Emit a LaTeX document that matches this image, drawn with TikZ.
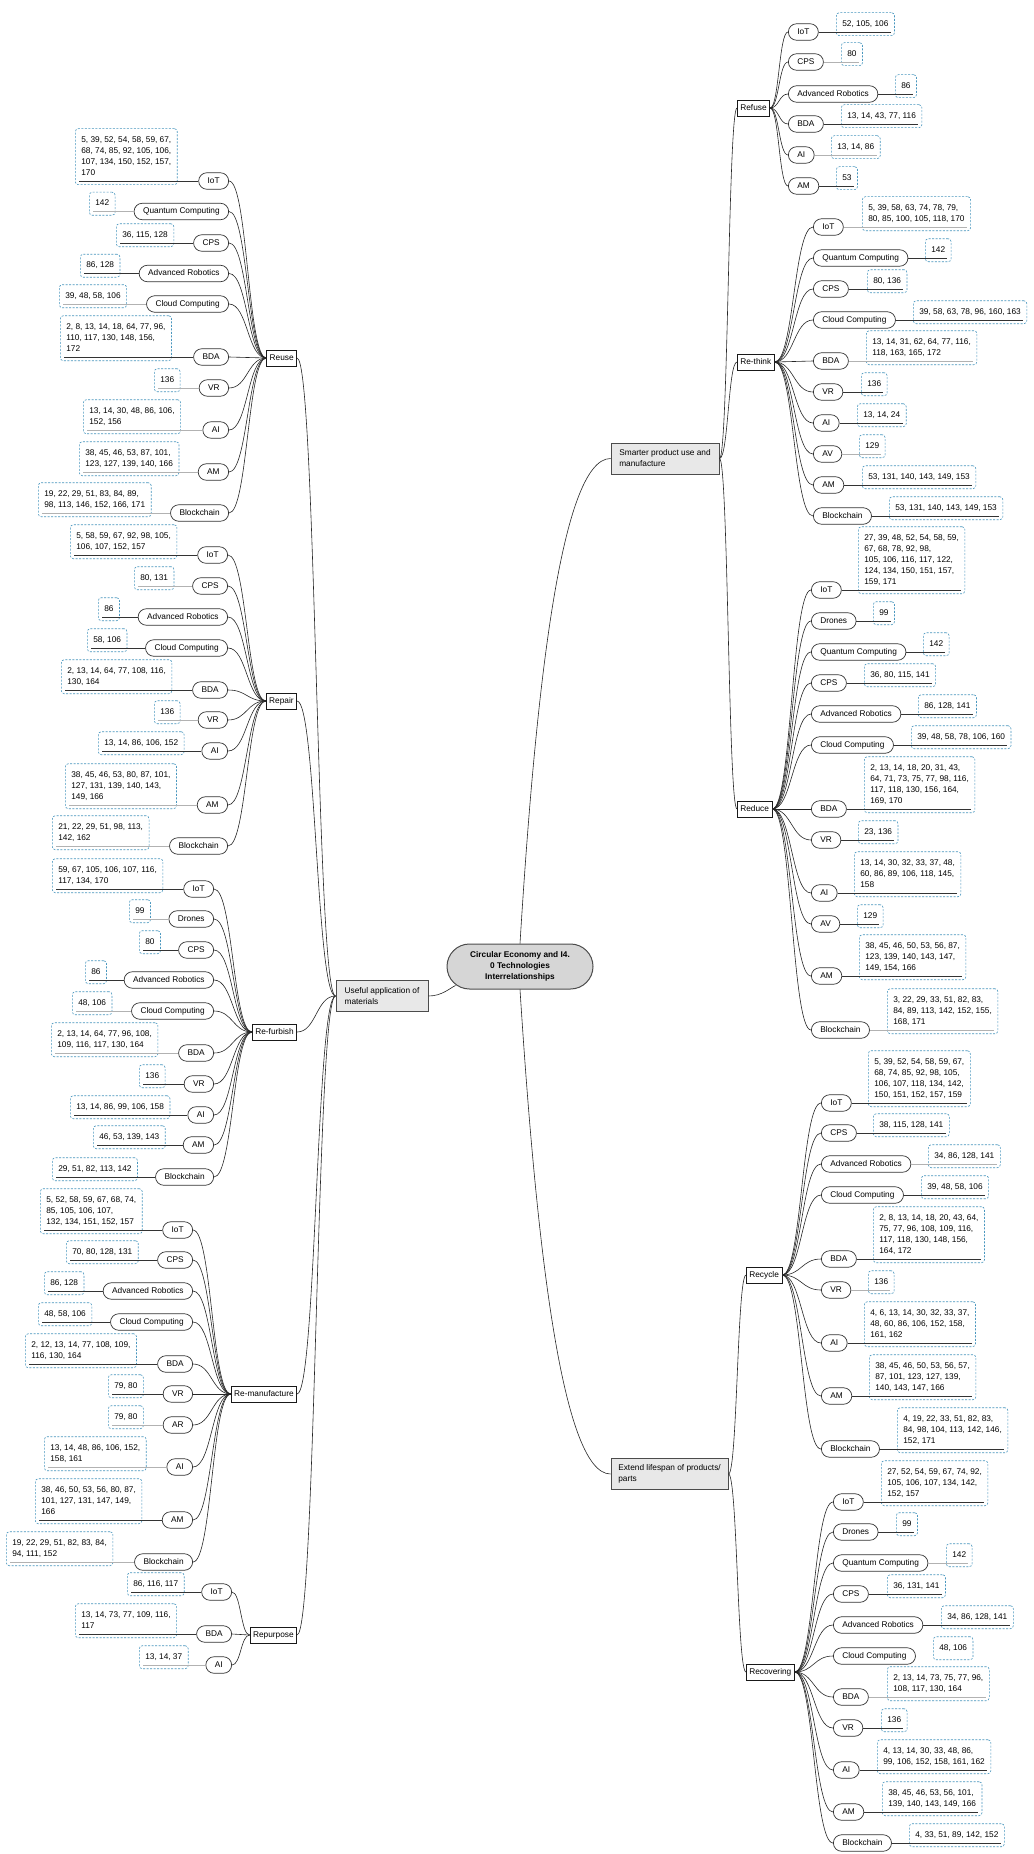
\documentclass[tikz,border=0pt]{standalone}
\usepackage{fontspec}
\setmainfont{Liberation Sans}
\usetikzlibrary{calc}
\definecolor{refblue}{RGB}{72,150,190}
\definecolor{lvone}{RGB}{232,232,232}
\definecolor{hubfill}{RGB}{214,214,214}
\tikzset{
  tech/.style={draw=black!80, line width=0.7pt, rounded corners=8.25pt, minimum height=16.5pt, inner xsep=9pt, inner ysep=0pt, text height=6.2pt, text depth=1.8pt, fill=white},
  catbox/.style={draw=black!90, line width=0.7pt, minimum height=16pt, inner xsep=3pt, inner ysep=0pt, text height=6.2pt, text depth=1.8pt, fill=white},
  lvlbox/.style={draw=black!70, fill=lvone, line width=1pt, align=left, minimum height=31pt, inner xsep=7pt},
  hubbox/.style={draw=black!70, fill=hubfill, line width=1pt, rounded corners=22.5pt, minimum width=146pt, minimum height=45pt, align=center, font=\bfseries\fontsize{8.3}{11}\selectfont},
  refbox/.style={draw=refblue, dash pattern=on 2pt off 1.5pt, rounded corners=3pt, line width=0.6pt, inner xsep=6pt, inner ysep=6pt},
  conn/.style={draw=black!85, line width=0.6pt},
  ul/.style={draw=black!80, line width=0.6pt},
  ulg/.style={draw=black!30, line width=0.6pt},
  uln/.style={draw=none}
}
\newcommand{\reftxt}[1]{\begin{tabular}{@{}l@{}}#1\end{tabular}}
\newcommand{\mmlink}[2]{\draw[conn] let \p1=(#1), \p2=(#2) in (\p1) .. controls ({(\x1+\x2)/2},\y1) and ({(\x1+\x2)/2},\y2) .. (\p2);}
\newcommand{\techL}[7]{%
  \node[tech,anchor=east] (#1) at (#2,#3) {#4};
  \node[refbox,anchor=south west] (#1r) at (#5,#3+4) {\reftxt{#6}};
  \draw[#7] (#1.west) -- ($(#1r.south west)+(4,-4)$);}
\newcommand{\techR}[7]{%
  \node[tech,anchor=west] (#1) at (#2,#3) {#4};
  \node[refbox,anchor=south west] (#1r) at (#5,#3+4) {\reftxt{#6}};
  \draw[#7] (#1.east) -- ($(#1r.south east)+(-4,-4)$);}
\begin{document}
\begin{tikzpicture}[x=1pt,y=-1pt,font=\fontsize{8.3}{11}\selectfont]
\fill[white] (0,0) rectangle (1033,1854);
\useasboundingbox (0,0) rectangle (1033,1854);

% hub and level-one nodes
\node[hubbox] (hub) at (520,966.5) {Circular Economy and I4.\\0 Technologies\\Interrelationships};
\node[lvlbox, minimum width=108pt] (smarter) at (665,458.5) {Smarter product use and\\manufacture};
\node[lvlbox, minimum width=92pt] (useful) at (382,996) {Useful application of\\materials};
\node[lvlbox, minimum width=117pt] (extend) at (669.5,1474) {Extend lifespan of products/\\parts};
\coordinate (hubin) at ($(hub.south west)+(9,-4)$);

% categories
\node[catbox,anchor=east] (reuse) at (297,358) {Reuse};
\node[catbox,anchor=east] (repair) at (297,701) {Repair};
\node[catbox,anchor=east] (refurb) at (297,1032) {Re-furbish};
\node[catbox,anchor=east] (reman) at (297,1394) {Re-manufacture};
\node[catbox,anchor=east] (repurp) at (297,1635) {Repurpose};
\node[catbox,anchor=west] (refuse) at (737,108) {Refuse};
\node[catbox,anchor=west] (rethink) at (737,362) {Re-think};
\node[catbox,anchor=west] (reduce) at (737,809) {Reduce};
\node[catbox,anchor=west] (recycle) at (746,1275) {Recycle};
\node[catbox,anchor=west] (recover) at (746,1672) {Recovering};

% trunk connectors
\draw[conn] (hub.north) .. controls (535,700) and (560,458.5) .. (smarter.west);
\draw[conn] (hub.south) .. controls (535,1225) and (560,1474) .. (extend.west);
\draw[conn] (useful.east) .. controls (442,996) and (450,988) .. (hubin);
\foreach \cnm in {reuse,repair,refurb,reman,repurp} {\mmlink{useful.west}{\cnm.east}}
\foreach \cnm in {refuse,rethink,reduce} {\mmlink{smarter.east}{\cnm.west}}
\foreach \cnm in {recycle,recover} {\mmlink{extend.east}{\cnm.west}}

% Reuse
\techL{a1}{229}{181}{IoT}{75}{5, 39, 52, 54, 58, 59, 67,\\68, 74, 85, 92, 105, 106,\\107, 134, 150, 152, 157,\\170}{ul}
\techL{a2}{229}{211.5}{Quantum Computing}{89}{142}{ulg}
\techL{a3}{229}{243}{CPS}{116}{36, 115, 128}{ul}
\techL{a4}{229}{273.5}{Advanced Robotics}{80}{86, 128}{ul}
\techL{a5}{229}{304}{Cloud Computing}{59}{39, 48, 58, 106}{ulg}
\techL{a6}{229}{357}{BDA}{60}{2, 8, 13, 14, 18, 64, 77, 96,\\110, 117, 130, 148, 156,\\172}{ul}
\techL{a7}{229}{388}{VR}{154}{136}{ulg}
\techL{a8}{229}{430}{AI}{83}{13, 14, 30, 48, 86, 106,\\152, 156}{ulg}
\techL{a9}{229}{472}{AM}{79}{38, 45, 46, 53, 87, 101,\\123, 127, 139, 140, 166}{ulg}
\techL{a10}{229}{513}{Blockchain}{38}{19, 22, 29, 51, 83, 84, 89,\\98, 113, 146, 152, 166, 171}{ulg}
\foreach \k in {1,...,10} {\mmlink{reuse.west}{a\k.east}}

% Repair
\techL{b1}{228}{555}{IoT}{70}{5, 58, 59, 67, 92, 98, 105,\\106, 107, 152, 157}{ul}
\techL{b2}{228}{586}{CPS}{134}{80, 131}{ulg}
\techL{b3}{228}{617}{Advanced Robotics}{98}{86}{ul}
\techL{b4}{228}{648}{Cloud Computing}{87}{58, 106}{ul}
\techL{b5}{228}{690}{BDA}{61}{2, 13, 14, 64, 77, 108, 116,\\130, 164}{ul}
\techL{b6}{228}{720}{VR}{154}{136}{ulg}
\techL{b7}{228}{751}{AI}{98}{13, 14, 86, 106, 152}{ul}
\techL{b8}{228}{805}{AM}{65}{38, 45, 46, 53, 80, 87, 101,\\127, 131, 139, 140, 143,\\149, 166}{ulg}
\techL{b9}{228}{846}{Blockchain}{52}{21, 22, 29, 51, 98, 113,\\142, 162}{ulg}
\foreach \k in {1,...,9} {\mmlink{repair.west}{b\k.east}}

% Re-furbish
\techL{c1}{214}{889}{IoT}{52}{59, 67, 105, 106, 107, 116,\\117, 134, 170}{ul}
\techL{c2}{214}{919}{Drones}{129}{99}{ulg}
\techL{c3}{214}{950}{CPS}{139}{80}{ul}
\techL{c4}{214}{980}{Advanced Robotics}{85}{86}{ul}
\techL{c5}{214}{1011}{Cloud Computing}{72}{48, 106}{ulg}
\techL{c6}{214}{1053}{BDA}{51}{2, 13, 14, 64, 77, 96, 108,\\109, 116, 117, 130, 164}{ulg}
\techL{c7}{214}{1084}{VR}{139}{136}{ul}
\techL{c8}{214}{1115}{AI}{70}{13, 14, 86, 99, 106, 158}{ul}
\techL{c9}{214}{1145}{AM}{93}{46, 53, 139, 143}{ul}
\techL{c10}{214}{1177}{Blockchain}{52}{29, 51, 82, 113, 142}{ul}
\foreach \k in {1,...,10} {\mmlink{refurb.west}{c\k.east}}

% Re-manufacture
\techL{d1}{193}{1230}{IoT}{40}{5, 52, 58, 59, 67, 68, 74,\\85, 105, 106, 107,\\132, 134, 151, 152, 157}{ul}
\techL{d2}{193}{1260}{CPS}{66}{70, 80, 128, 131}{ul}
\techL{d3}{193}{1291}{Advanced Robotics}{44}{86, 128}{ul}
\techL{d4}{193}{1322}{Cloud Computing}{38}{48, 58, 106}{ul}
\techL{d5}{193}{1364}{BDA}{25}{2, 12, 13, 14, 77, 108, 109,\\116, 130, 164}{ul}
\techL{d6}{193}{1394}{VR}{108}{79, 80}{ul}
\techL{d7}{193}{1425}{AR}{108}{79, 80}{ulg}
\techL{d8}{193}{1467}{AI}{44}{13, 14, 48, 86, 106, 152,\\158, 161}{ulg}
\techL{d9}{193}{1520}{AM}{35}{38, 46, 50, 53, 56, 80, 87,\\101, 127, 131, 147, 149,\\166}{ul}
\techL{d10}{193}{1562}{Blockchain}{6}{19, 22, 29, 51, 82, 83, 84,\\94, 111, 152}{ulg}
\foreach \k in {1,...,10} {\mmlink{reman.west}{d\k.east}}

% Repurpose
\techL{e1}{232}{1592}{IoT}{127}{86, 116, 117}{ul}
\techL{e2}{232}{1634}{BDA}{75}{13, 14, 73, 77, 109, 116,\\117}{ul}
\techL{e3}{232}{1665}{AI}{139}{13, 14, 37}{ulg}
\foreach \k in {1,...,3} {\mmlink{repurp.west}{e\k.east}}

% Refuse
\techR{f1}{788}{32}{IoT}{836}{52, 105, 106}{ul}
\techR{f2}{788}{62}{CPS}{841}{80}{ulg}
\techR{f3}{788}{94}{Advanced Robotics}{895}{86}{ul}
\techR{f4}{788}{124}{BDA}{841}{13, 14, 43, 77, 116}{ul}
\techR{f5}{788}{155}{AI}{831}{13, 14, 86}{ulg}
\techR{f6}{788}{186}{AM}{836}{53}{ul}
\foreach \k in {1,...,6} {\mmlink{refuse.east}{f\k.west}}

% Re-think
\techR{g1}{813}{227}{IoT}{862}{5, 39, 58, 63, 74, 78, 79,\\80, 85, 100, 105, 118, 170}{ulg}
\techR{g2}{813}{258}{Quantum Computing}{925}{142}{ul}
\techR{g3}{813}{289}{CPS}{867}{80, 136}{ul}
\techR{g4}{813}{320}{Cloud Computing}{913}{39, 58, 63, 78, 96, 160, 163}{ul}
\techR{g5}{813}{361}{BDA}{866}{13, 14, 31, 62, 64, 77, 116,\\118, 163, 165, 172}{ulg}
\techR{g6}{813}{392}{VR}{861}{136}{ul}
\techR{g7}{813}{423}{AI}{857}{13, 14, 24}{ul}
\techR{g8}{813}{454}{AV}{859}{129}{ulg}
\techR{g9}{813}{485}{AM}{862}{53, 131, 140, 143, 149, 153}{ul}
\techR{g10}{813}{516}{Blockchain}{889}{53, 131, 140, 143, 149, 153}{ul}
\foreach \k in {1,...,10} {\mmlink{rethink.east}{g\k.west}}

% Reduce
\techR{h1}{811}{590}{IoT}{858}{27, 39, 48, 52, 54, 58, 59,\\67, 68, 78, 92, 98,\\105, 106, 116, 117, 122,\\124, 134, 150, 151, 157,\\159, 171}{ul}
\techR{h2}{811}{621}{Drones}{873}{99}{ul}
\techR{h3}{811}{652}{Quantum Computing}{923}{142}{ul}
\techR{h4}{811}{683}{CPS}{864}{36, 80, 115, 141}{ul}
\techR{h5}{811}{714}{Advanced Robotics}{918}{86, 128, 141}{ul}
\techR{h6}{811}{745}{Cloud Computing}{911}{39, 48, 58, 78, 106, 160}{ul}
\techR{h7}{811}{809}{BDA}{864}{2, 13, 14, 18, 20, 31, 43,\\64, 71, 73, 75, 77, 98, 116,\\117, 118, 130, 156, 164,\\169, 170}{ul}
\techR{h8}{811}{840}{VR}{858}{23, 136}{ul}
\techR{h9}{811}{893}{AI}{854}{13, 14, 30, 32, 33, 37, 48,\\60, 86, 89, 106, 118, 145,\\158}{ul}
\techR{h10}{811}{924}{AV}{857}{129}{ul}
\techR{h11}{811}{976}{AM}{859}{38, 45, 46, 50, 53, 56, 87,\\123, 139, 140, 143, 147,\\149, 154, 166}{ul}
\techR{h12}{811}{1030}{Blockchain}{887}{3, 22, 29, 33, 51, 82, 83,\\84, 89, 113, 142, 152, 155,\\168, 171}{ulg}
\foreach \k in {1,...,12} {\mmlink{reduce.east}{h\k.west}}

% Recycle
\techR{i1}{821}{1103}{IoT}{868}{5, 39, 52, 54, 58, 59, 67,\\68, 74, 85, 92, 98, 105,\\106, 107, 118, 134, 142,\\150, 151, 152, 157, 159}{ul}
\techR{i2}{821}{1133}{CPS}{873}{38, 115, 128, 141}{ul}
\techR{i3}{821}{1164}{Advanced Robotics}{928}{34, 86, 128, 141}{ulg}
\techR{i4}{821}{1195}{Cloud Computing}{921}{39, 48, 58, 106}{ul}
\techR{i5}{821}{1259}{BDA}{873}{2, 8, 13, 14, 18, 20, 43, 64,\\75, 77, 96, 108, 109, 116,\\117, 118, 130, 148, 156,\\164, 172}{ul}
\techR{i6}{821}{1290}{VR}{868}{136}{ulg}
\techR{i7}{821}{1343}{AI}{864}{4, 6, 13, 14, 30, 32, 33, 37,\\48, 60, 86, 106, 152, 158,\\161, 162}{ul}
\techR{i8}{821}{1396}{AM}{869}{38, 45, 46, 50, 53, 56, 57,\\87, 101, 123, 127, 139,\\140, 143, 147, 166}{ul}
\techR{i9}{821}{1449}{Blockchain}{897}{4, 19, 22, 33, 51, 82, 83,\\84, 98, 104, 113, 142, 146,\\152, 171}{ul}
\foreach \k in {1,...,9} {\mmlink{recycle.east}{i\k.west}}

% Recovering
\techR{j1}{833}{1502}{IoT}{881}{27, 52, 54, 59, 67, 74, 92,\\105, 106, 107, 134, 142,\\152, 157}{ul}
\techR{j2}{833}{1532}{Drones}{896}{99}{ul}
\techR{j3}{833}{1563}{Quantum Computing}{946}{142}{ulg}
\techR{j4}{833}{1594}{CPS}{887}{36, 131, 141}{ul}
\techR{j5}{833}{1625}{Advanced Robotics}{941}{34, 86, 128, 141}{ul}
\techR{j6}{833}{1656}{Cloud Computing}{933}{48, 106}{uln}
\techR{j7}{833}{1697}{BDA}{887}{2, 13, 14, 73, 75, 77, 96,\\108, 117, 130, 164}{ulg}
\techR{j8}{833}{1728}{VR}{881}{136}{ul}
\techR{j9}{833}{1770}{AI}{877}{4, 13, 14, 30, 33, 48, 86,\\99, 106, 152, 158, 161, 162}{ul}
\techR{j10}{833}{1812}{AM}{882}{38, 45, 46, 53, 56, 101,\\139, 140, 143, 149, 166}{ul}
\techR{j11}{833}{1843}{Blockchain}{909}{4, 33, 51, 89, 142, 152}{ul}
\foreach \k in {1,...,11} {\mmlink{recover.east}{j\k.west}}
\end{tikzpicture}
\end{document}
